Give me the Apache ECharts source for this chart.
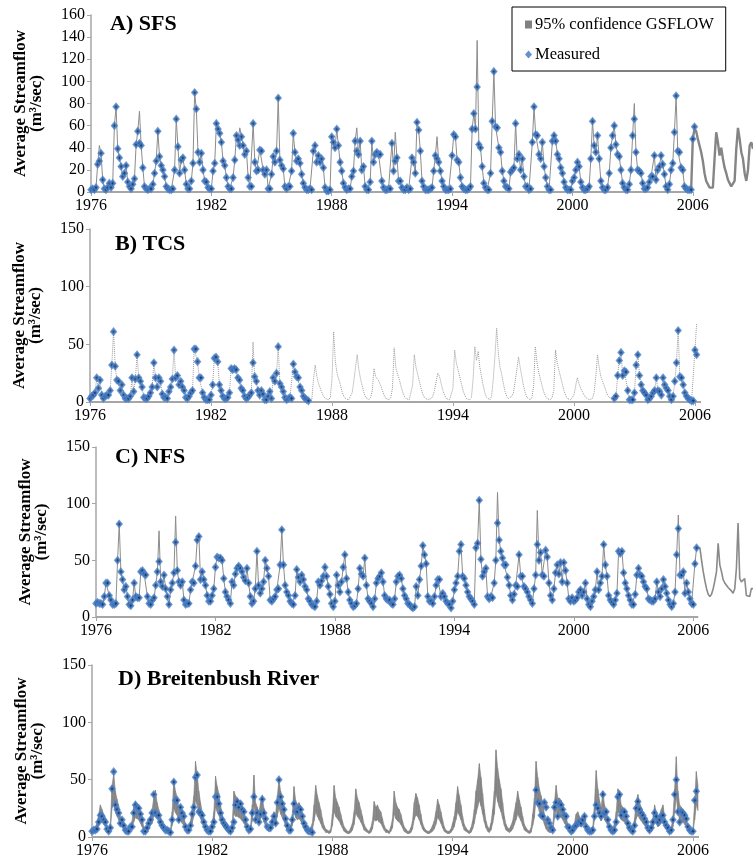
<!DOCTYPE html>
<html>
<head>
<meta charset="utf-8">
<script src="https://cdn.jsdelivr.net/npm/echarts@6/dist/echarts.min.js"></script>
<style>
  html, body { margin: 0; padding: 0; background: #fff; }
  #chart { width: 753px; height: 863px; }
</style>
</head>
<body>
<div id="chart"></div>
<script>
// monthly values, index 0 = Jan 1976
const years = [1976, 1982, 1988, 1994, 2000, 2006];

// A) SFS
const measA = [
  2,3,2,4,25,28,35,11,3,2,4,8,
  4,8,60,77,39,31,23,14,17,24,9,5,
  3,7,12,43,55,44,42,22,5,3,2,3,
  3,7,17,28,55,32,24,20,14,5,3,2,
  2,3,20,66,41,17,29,31,20,7,3,3,
  10,26,90,75,36,27,35,20,10,9,4,3,
  3,19,26,62,57,53,45,28,24,13,5,3,
  3,13,29,51,47,42,50,42,34,37,13,5,
  5,62,27,19,20,38,37,20,16,20,3,3,
  16,32,27,37,85,29,24,21,5,3,5,5,
  19,53,36,28,30,26,16,8,4,2,2,3,
  2,37,42,27,33,27,30,22,4,1,1,2,
  50,45,40,57,42,27,19,8,4,2,3,3,
  14,19,46,37,34,46,20,23,5,2,2,9,
  46,27,34,36,34,34,10,4,2,2,3,3,
  44,19,28,31,10,10,4,2,2,4,2,3,
  31,27,17,63,56,37,10,5,2,2,2,3,
  4,19,33,30,27,19,10,5,2,2,2,3,
  33,52,50,29,27,13,5,3,2,2,3,5,
  57,71,57,95,43,40,23,8,4,2,2,17,
  64,109,59,58,40,36,19,10,5,4,3,18,
  20,22,62,30,34,20,30,14,5,5,2,3,
  45,77,52,51,34,30,45,23,13,5,2,2,
  46,51,46,34,30,22,17,9,4,2,2,2,
  10,13,20,27,23,9,4,2,2,3,5,30,
  64,42,36,51,30,10,4,2,2,4,17,40,
  51,60,43,34,32,20,8,4,2,2,7,20,
  51,66,36,20,19,17,8,3,3,4,9,14,
  14,33,11,20,23,33,25,16,5,2,7,20,
  26,54,87,37,36,22,20,5,3,2,2,2,
  48,59
];
const simA = [
  2,3,2,4,25,42,35,11,3,2,4,8,
  4,8,60,77,39,31,23,14,17,24,9,5,
  3,7,12,43,55,73,42,22,5,3,2,3,
  3,7,17,28,55,32,24,20,14,5,3,2,
  2,3,20,66,41,17,29,31,20,7,3,3,
  10,26,90,75,36,27,35,20,10,9,4,3,
  3,19,26,62,57,53,45,28,24,13,5,3,
  3,13,29,51,47,58,50,42,34,37,13,5,
  5,62,27,19,20,38,37,20,16,20,3,3,
  16,32,27,37,85,29,24,21,5,3,5,5,
  19,53,36,28,30,26,16,8,4,2,2,3,
  2,37,42,27,33,27,30,22,4,1,1,2,
  50,45,40,57,42,27,19,8,4,2,3,3,
  14,19,46,58,34,46,20,23,5,2,2,9,
  46,27,34,36,34,34,10,4,2,2,3,3,
  44,19,54,31,10,10,4,2,2,4,2,3,
  31,27,17,63,56,37,10,5,2,2,2,3,
  4,19,33,50,27,19,10,5,2,2,2,3,
  33,52,50,29,27,13,5,3,2,2,3,5,
  57,71,57,137,43,40,23,8,4,2,2,17,
  64,109,59,58,40,36,19,10,5,4,3,18,
  20,22,62,30,34,20,30,14,5,5,2,3,
  45,77,52,51,34,30,45,23,13,5,2,2,
  46,51,46,34,30,22,17,9,4,2,2,2,
  10,13,20,27,23,9,4,2,2,3,5,30,
  64,42,36,51,30,10,4,2,2,4,17,40,
  51,60,43,34,32,20,8,4,2,2,7,20,
  51,80,36,20,19,17,8,3,3,4,9,14,
  14,33,11,20,23,33,25,16,5,2,7,20,
  26,54,87,37,36,22,20,5,3,2,2,2,
  48,57,55,48,42,36,28,17,10,7,4,4,
  4,30,54,45,33,40,30,22,17,11,8,5,
  4,10,39,58,48,36,30,17,10,20,42,45,
  39
];

// B) TCS (gauge record has a gap 1987-2001)
const measBEarly = [
  3,5,6,8,21,12,19,6,3,5,6,6,
  10,32,61,31,19,18,10,15,6,3,3,3,
  5,21,9,20,41,21,18,13,4,3,3,5,
  8,13,34,21,13,21,18,7,4,4,3,9,
  13,20,45,21,23,15,18,13,10,4,3,5,
  8,10,46,46,35,21,21,8,4,2,2,2,
  6,15,38,39,35,15,10,5,3,3,4,8,
  29,28,29,28,21,19,12,10,5,3,4,6,
  8,34,22,18,10,6,10,7,2,2,5,9,
  3,21,18,25,48,16,13,9,4,2,3,4,
  3,33,26,22,21,13,10,5,3,2,1
];
const measBLateStart = 312;
const measBLate = [
  3,5,23,36,43,23,27,26,10,2,2,2,
  8,32,41,23,15,10,8,6,2,3,5,8,
  10,21,10,9,6,21,15,12,10,5,2,5,
  18,34,62,22,21,15,8,5,3,2,1,1,
  45,41
];
const simB = [
  3,5,6,8,21,12,19,6,3,5,6,6,
  10,32,61,31,19,18,10,15,6,3,3,3,
  5,21,9,20,41,21,18,13,4,3,3,5,
  8,13,34,21,13,21,18,7,4,4,3,9,
  13,20,45,21,23,15,18,13,10,4,3,5,
  8,10,46,46,35,21,21,8,4,2,2,2,
  6,15,38,39,35,15,10,5,3,3,4,8,
  29,28,29,28,21,19,12,10,5,3,4,6,
  8,52,22,18,10,6,10,7,2,2,5,9,
  3,21,18,25,48,16,13,9,4,2,3,4,
  3,33,26,22,21,13,10,5,3,2,1,2,
  2,20,32,22,16,12,8,5,3,2,2,4,
  20,61,35,25,20,15,9,5,3,2,2,5,
  8,18,30,41,28,20,14,8,4,3,2,4,
  10,29,22,20,18,14,10,6,3,2,2,4,
  12,47,30,24,20,14,9,5,3,2,2,3,
  15,41,30,24,18,12,7,4,3,2,2,3,
  5,10,18,25,22,16,10,6,3,2,2,3,
  12,45,34,28,22,16,10,6,3,2,2,4,
  20,48,36,44,30,22,14,8,4,3,2,5,
  20,40,64,42,30,24,16,9,5,3,2,5,
  8,18,28,39,30,22,14,8,4,3,2,4,
  14,48,34,26,20,14,9,5,3,2,2,4,
  10,45,34,28,22,16,10,6,3,2,2,3,
  6,14,21,16,12,9,6,4,3,2,2,3,
  8,22,41,30,22,18,14,10,6,4,3,3,
  3,5,23,36,43,23,27,26,10,2,2,2,
  8,32,41,23,15,10,8,6,2,3,5,8,
  10,21,10,9,6,21,15,12,10,5,2,5,
  18,34,62,22,21,15,8,5,3,2,1,1,
  45,68
];

// C) NFS
const measC = [
  12,13,12,12,11,18,30,30,19,15,11,11,
  12,50,82,40,33,24,27,18,11,10,15,30,
  18,17,17,40,41,38,37,18,12,11,15,17,
  28,40,49,31,27,37,25,18,11,24,30,39,
  66,41,31,28,31,15,11,12,12,24,31,30,
  45,68,71,33,40,33,28,19,14,14,19,25,
  44,53,52,52,50,34,22,18,15,12,31,28,
  38,43,45,43,40,35,32,43,30,18,12,14,
  25,58,28,21,25,31,50,43,36,15,14,16,
  18,24,25,46,77,46,28,22,19,14,12,11,
  19,42,35,31,37,33,27,24,16,14,11,10,
  9,14,31,28,32,36,44,36,27,20,12,9,
  14,37,28,22,31,44,55,34,22,15,12,9,
  10,12,25,43,38,36,52,28,16,14,12,9,
  16,30,34,36,39,31,19,16,15,15,12,11,
  16,31,36,37,34,25,19,16,12,11,9,8,
  9,27,19,33,45,63,55,47,18,14,14,12,
  18,28,33,33,18,21,18,14,12,11,8,14,
  24,30,36,58,64,36,34,28,22,18,16,14,
  11,61,65,103,51,36,40,43,18,16,18,17,
  30,50,83,68,58,52,46,46,35,28,19,15,
  20,28,27,55,36,36,27,25,22,18,15,12,
  25,37,64,50,57,37,36,59,53,30,19,15,
  25,39,46,38,48,31,48,41,30,16,14,17,
  14,15,17,22,24,19,22,30,16,11,9,14,
  18,24,40,24,30,36,64,46,36,19,15,13,
  11,15,21,58,56,58,39,30,25,19,15,11,
  11,20,37,43,37,36,31,27,25,16,15,14,
  14,16,31,22,18,25,33,27,21,15,11,9,
  12,22,55,78,37,37,40,21,30,22,16,12,
  11,47,61
];
const simC = [
  12,13,12,12,11,18,30,30,19,15,11,11,
  12,50,82,40,33,24,27,18,11,10,15,30,
  18,17,17,40,41,38,37,18,12,11,15,17,
  28,40,76,31,27,37,25,18,11,24,30,39,
  89,41,31,28,31,15,11,12,12,24,31,30,
  45,68,72,33,40,33,28,19,14,14,19,25,
  44,53,52,52,50,34,22,18,15,12,31,28,
  38,43,45,43,40,35,32,43,30,18,12,14,
  25,58,28,21,25,31,50,43,36,15,14,16,
  18,24,25,46,77,46,28,22,19,14,12,11,
  19,42,35,31,37,33,27,24,16,14,11,10,
  9,14,31,28,32,36,44,36,27,20,12,9,
  14,37,28,22,31,44,55,34,22,15,12,9,
  10,12,25,43,38,36,52,28,16,14,12,9,
  16,30,34,36,39,31,19,16,15,15,12,11,
  16,31,36,37,34,25,19,16,12,11,9,8,
  9,27,19,33,45,63,55,47,18,14,14,12,
  18,28,33,33,18,21,18,14,12,11,8,14,
  24,30,36,58,64,36,34,28,22,18,16,14,
  11,61,65,103,51,36,40,43,18,16,18,17,
  30,50,110,68,58,52,46,46,35,28,19,15,
  20,28,27,55,36,36,27,25,22,18,15,12,
  25,37,94,50,57,37,36,59,53,30,19,15,
  25,39,46,38,48,31,48,41,30,16,14,17,
  14,15,17,22,24,19,22,30,16,11,9,14,
  18,24,40,24,30,36,64,46,36,19,15,13,
  11,15,21,58,56,58,39,30,25,19,15,11,
  11,20,37,43,37,36,31,27,25,16,15,14,
  14,16,31,22,18,25,33,27,21,15,11,9,
  12,22,55,90,37,37,40,21,30,22,16,12,
  11,47,61,61,61,50,40,32,25,20,18,20,
  25,32,40,65,46,40,33,30,28,26,25,23,
  21,25,43,83,34,31,31,34,19,18,18,25,
  25
];

// D) Breitenbush River (gauge record has a gap 1987-1998)
const measDEarly = [
  5,6,6,7,13,19,18,15,13,7,5,8,
  42,57,28,24,21,12,15,10,6,5,5,9,
  9,21,28,26,25,20,15,5,5,8,12,15,
  21,37,21,19,19,13,10,8,6,6,5,4,
  15,48,32,32,15,26,21,18,9,6,6,10,
  20,26,52,54,22,21,19,13,9,6,5,5,
  9,13,35,35,29,21,15,12,10,8,6,5,
  8,13,28,31,26,29,24,22,15,9,6,7,
  21,35,15,21,13,20,33,21,16,9,8,8,
  13,18,12,30,50,35,29,24,16,10,6,6,
  15,29,22,22,25,24,18,12,9,6,5,5,
  4
];
const measDLateStart = 266;
const measDLate = [
  41,30,29,19,18,30,26,15,12,8,
  6,26,30,18,29,28,24,19,18,9,8,5,
  6,9,10,12,13,12,15,18,9,6,5,5,
  6,18,28,25,21,18,37,21,22,15,9,6,
  5,6,13,35,37,19,22,22,18,12,8,6,
  5,10,25,31,24,21,19,16,13,8,6,8,
  13,21,18,13,15,18,19,13,10,8,5,6,
  15,37,50,22,13,22,21,19,16,9,6,5,
  5,32,40
];
const bandDHigh = [
  7,8,9,12,20,28,24,20,16,10,8,12,
  45,55,40,33,27,18,16,12,8,6,6,10,
  14,26,31,29,26,22,16,9,7,9,13,18,
  24,34,41,30,24,18,13,10,8,7,6,6,
  22,50,40,35,26,28,22,18,11,8,7,14,
  24,36,66,55,40,30,22,15,10,8,7,8,
  12,22,53,44,38,28,20,14,10,8,7,7,
  12,40,36,34,32,30,26,22,15,10,8,10,
  28,54,30,26,22,30,36,25,16,10,8,10,
  16,22,20,36,50,40,32,26,17,11,8,10,
  20,44,32,28,30,27,20,13,9,7,6,8,
  12,28,45,36,30,24,16,10,7,6,5,7,
  20,45,34,30,26,20,14,9,7,5,5,8,
  12,22,42,34,30,24,18,11,8,6,5,8,
  14,31,26,28,24,22,16,10,7,6,5,9,
  16,40,30,26,24,20,14,9,7,5,5,8,
  14,30,38,34,28,20,12,8,6,5,5,7,
  10,14,22,33,28,22,15,9,6,5,5,7,
  12,18,30,44,36,28,18,11,8,6,5,8,
  14,24,40,50,64,52,38,24,14,9,7,12,
  24,40,76,60,50,42,30,18,11,8,7,10,
  14,22,30,40,32,26,18,11,8,6,5,8,
  20,34,66,52,42,36,30,20,13,9,7,8,
  10,30,45,34,34,32,28,22,18,11,8,6,
  8,12,20,22,18,16,18,20,11,7,6,7,
  9,30,58,42,32,26,40,28,24,16,10,8,
  8,12,22,42,40,28,26,24,20,13,9,7,
  7,16,32,37,30,26,22,18,14,9,7,10,
  16,28,22,16,20,24,28,18,12,9,6,8,
  18,42,70,40,28,26,24,21,17,10,7,6,
  8,30,57,45
];
const bandDLow = [
  4,4,5,6,10,14,13,11,9,6,4,6,
  25,30,22,18,15,10,9,7,5,4,4,6,
  7,13,17,16,15,12,9,5,4,5,7,10,
  12,18,22,16,13,10,8,6,5,4,4,4,
  10,25,21,19,14,15,12,10,6,5,5,7,
  12,18,32,28,20,16,12,9,6,5,4,5,
  6,11,26,22,19,14,11,8,6,5,4,4,
  6,20,18,18,17,16,14,12,9,6,5,6,
  14,27,16,14,12,16,18,13,9,6,5,6,
  8,11,10,18,25,20,17,14,9,6,5,6,
  10,22,17,15,16,14,11,7,5,4,4,5,
  6,14,22,18,15,12,8,6,4,4,3,4,
  10,22,18,16,14,11,8,5,4,3,3,4,
  6,11,21,18,16,13,10,6,5,4,3,4,
  7,15,14,15,13,12,9,6,4,4,3,5,
  8,20,16,14,13,11,8,5,4,3,3,4,
  7,15,19,18,15,11,7,5,4,3,3,4,
  5,7,11,17,15,12,8,5,4,3,3,4,
  6,9,15,22,19,15,10,6,5,4,3,4,
  7,12,20,26,32,27,20,13,8,5,4,6,
  12,20,38,31,26,22,16,10,6,5,4,5,
  7,11,15,20,17,14,10,6,5,4,3,4,
  10,17,34,27,22,19,16,11,7,5,4,4,
  5,16,23,18,18,17,15,12,10,6,5,4,
  4,6,10,11,10,9,10,11,7,4,4,4,
  5,15,29,22,17,14,20,15,13,9,6,5,
  4,6,11,21,21,15,14,13,11,7,5,4,
  4,8,16,19,16,14,12,10,8,5,4,5,
  8,14,12,9,10,12,14,10,7,5,4,4,
  9,21,35,21,15,14,13,11,9,6,4,4,
  4,15,28,23
];

// first month of the simulation-only period (Jan 2006)
const simOnlyStart = 360;

const toPts = (arr, start) => arr.map((v, i) => [1976 + (start + i) / 12, v]);

const serif = 'Liberation Serif';
// xMax: right end of each plot area; axisEnd: where the drawn axis line stops
const panels = [
  { title: 'A) SFS', left: 91, right: 0, top: 15, height: 177, yMax: 160, yStep: 20, xMax: 2009, axisEnd: 2006, titleTop: 13, titleLeft: 110 },
  { title: 'B) TCS', left: 90, right: 52, top: 229, height: 173, yMax: 150, yStep: 50, xMax: 2006.3, axisEnd: 2006.3, titleTop: 233, titleLeft: 115 },
  { title: 'C) NFS', left: 96, right: 0, top: 447, height: 170, yMax: 150, yStep: 50, xMax: 2009, axisEnd: 2006.25, titleTop: 446, titleLeft: 115 },
  { title: 'D) Breitenbush River', left: 92, right: 54, top: 665, height: 172, yMax: 150, yStep: 50, xMax: 2006.3, axisEnd: 2006.3, titleTop: 668, titleLeft: 118 }
];

const axisGray = '#a6a6a6';
const simColor = '#8c8c8c';

const measStyle = {
  type: 'scatter',
  name: 'Measured',
  symbol: 'diamond',
  symbolSize: [5, 6],
  itemStyle: { color: '#13284a', borderColor: '#4a82cc', borderWidth: 2 },
  z: 5
};
const axisLineMark = idx => ({
  type: 'line', xAxisIndex: idx, yAxisIndex: idx, data: [], silent: true, z: 6,
  markLine: {
    symbol: 'none', silent: true, animation: false, label: { show: false },
    lineStyle: { color: axisGray, width: 2, type: 'solid' },
    data: [[{ coord: [years[0], 0] }, { coord: [panels[idx].axisEnd, 0] }]]
  }
});
const simLine = (idx, arr, start, extra) => Object.assign({
  type: 'line',
  name: '95% confidence GSFLOW',
  xAxisIndex: idx, yAxisIndex: idx,
  data: toPts(arr, start),
  showSymbol: false,
  lineStyle: { color: simColor, width: 1 },
  itemStyle: { color: simColor },
  z: 2
}, extra || {});
const wideSim = { lineStyle: { color: '#858585', width: 2.4 } };

const bandD = bandDLow.map((lo, i) => [1976 + i / 12, lo, bandDHigh[i]]);

const series = [
  simLine(0, simA.slice(0, simOnlyStart), 0),
  simLine(0, simA.slice(simOnlyStart - 1), simOnlyStart - 1, wideSim),
  Object.assign({}, measStyle, { xAxisIndex: 0, yAxisIndex: 0, data: toPts(measA, 0) }),
  simLine(1, simB, 0, { lineStyle: { color: '#9a9a9a', width: 1, type: 'dotted' } }),
  Object.assign({}, measStyle, { xAxisIndex: 1, yAxisIndex: 1, data: toPts(measBEarly, 0) }),
  Object.assign({}, measStyle, { xAxisIndex: 1, yAxisIndex: 1, data: toPts(measBLate, measBLateStart) }),
  simLine(2, simC.slice(0, simOnlyStart + 3), 0),
  simLine(2, simC.slice(simOnlyStart + 2), simOnlyStart + 2, { lineStyle: { color: '#8a8a8a', width: 1.6 } }),
  Object.assign({}, measStyle, { xAxisIndex: 2, yAxisIndex: 2, data: toPts(measC, 0) }),
  {
    type: 'custom', name: '95% confidence GSFLOW', xAxisIndex: 3, yAxisIndex: 3,
    data: bandD, encode: { x: 0, y: [1, 2] }, z: 2, silent: true,
    itemStyle: { color: '#858585' },
    renderItem: (params, api) => {
      const i = params.dataIndex;
      if (i >= bandD.length - 1) return null;
      const a = bandD[i], b = bandD[i + 1];
      const pts = [api.coord([a[0], a[2]]), api.coord([b[0], b[2]]), api.coord([b[0], b[1]]), api.coord([a[0], a[1]])];
      return { type: 'polygon', shape: { points: pts }, style: { fill: '#858585', stroke: '#858585', lineWidth: 0.6 } };
    }
  },
  Object.assign({}, measStyle, { xAxisIndex: 3, yAxisIndex: 3, data: toPts(measDEarly, 0) }),
  Object.assign({}, measStyle, { xAxisIndex: 3, yAxisIndex: 3, data: toPts(measDLate, measDLateStart) }),
  axisLineMark(0), axisLineMark(1), axisLineMark(2), axisLineMark(3)
];

const option = {
  animation: false,
  backgroundColor: '#fff',
  title: panels.map(p => ({
    text: p.title, left: p.titleLeft, top: p.titleTop, padding: 0,
    textStyle: { fontFamily: serif, fontWeight: 'bold', fontSize: 22, color: '#000' }
  })),
  legend: {
    left: 512, top: 7, orient: 'vertical',
    borderColor: '#000', borderWidth: 1, padding: [9, 12, 8, 13],
    itemGap: 13, itemWidth: 7, itemHeight: 8,
    textStyle: { fontFamily: serif, fontSize: 16.5, color: '#000', padding: [0, 0, 0, -2] },
    data: [
      { name: '95% confidence GSFLOW', icon: 'rect', itemStyle: { color: '#808080' } },
      { name: 'Measured', icon: 'diamond', itemStyle: { color: '#3f74c0', borderWidth: 0 } }
    ]
  },
  grid: panels.map(p => ({ left: p.left, right: p.right, top: p.top, height: p.height })),
  xAxis: panels.map((p, i) => ({
    type: 'value', gridIndex: i, min: years[0], max: p.xMax,
    axisLine: { show: false },
    axisTick: { show: true, length: 4, customValues: years, lineStyle: { color: axisGray } },
    axisLabel: { fontFamily: serif, fontSize: 16, color: '#000', margin: 6, customValues: years, formatter: v => String(v) },
    splitLine: { show: false }
  })),
  yAxis: panels.map((p, i) => ({
    type: 'value', gridIndex: i, min: 0, max: p.yMax, interval: p.yStep,
    name: 'Average Streamflow\n(m³/sec)', nameLocation: 'middle', nameRotate: 90, nameGap: 46,
    nameTextStyle: { fontFamily: serif, fontWeight: 'bold', fontSize: 17, lineHeight: 16, color: '#000' },
    axisLine: { show: true, lineStyle: { color: axisGray, width: 1.5 } },
    axisTick: { show: true, length: 4, lineStyle: { color: axisGray } },
    axisLabel: { fontFamily: serif, fontSize: 16, color: '#000', margin: 6 },
    splitLine: { show: false }
  })),
  series: series
};

const chart = echarts.init(document.getElementById('chart'));
chart.setOption(option);
</script>
</body>
</html>
